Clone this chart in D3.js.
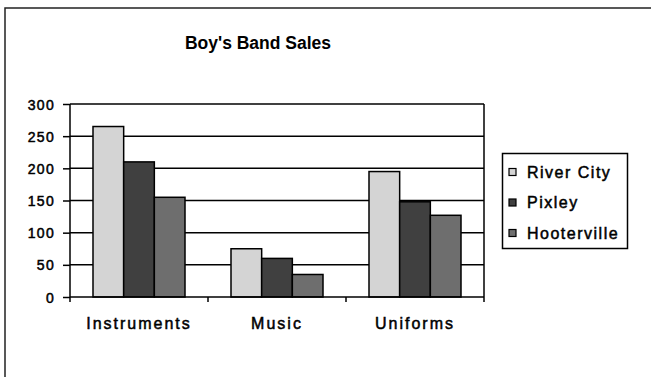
<!DOCTYPE html>
<html>
<head>
<meta charset="utf-8">
<script src="https://cdn.jsdelivr.net/npm/d3@7/dist/d3.min.js"></script>
<style>
  html, body { margin: 0; padding: 0; background: #fff; }
  svg { display: block; }
  text { font-family: Arial, "Liberation Sans", sans-serif; fill: #000; }
</style>
</head>
<body>
<svg id="chart" width="651" height="377"></svg>
<script>
const title = "Boy's Band Sales";
const categories = ["Instruments", "Music", "Uniforms"];
const seriesNames = ["River City", "Pixley", "Hooterville"];
const riverCity = [265, 75, 195];
const pixley = [210, 60, 148];
const hooterville = [155, 35, 127];
const yTicks = [0, 50, 100, 150, 200, 250, 300];
const seriesColors = ["#d4d4d4", "#404040", "#6e6e6e"];

const seriesValues = [riverCity, pixley, hooterville];
const data = categories.map((c, i) => ({
  category: c,
  values: seriesNames.map((s, j) => ({ series: s, value: seriesValues[j][i], color: seriesColors[j] }))
}));

const svg = d3.select("#chart");

// outer chart frame
svg.append("rect").attr("x", 5).attr("y", 8).attr("width", 700).attr("height", 400)
  .attr("fill", "none").attr("stroke", "#222").attr("stroke-width", 1.5);

const plot = { left: 70, right: 484, top: 104, bottom: 297 };

const x = d3.scaleBand().domain(categories).range([plot.left, plot.right]).paddingInner(0).paddingOuter(0);
const xInner = d3.scaleBand().domain(seriesNames).range([0, x.bandwidth()]).paddingInner(0).paddingOuter(0.75);
const y = d3.scaleLinear().domain([0, 300]).range([plot.bottom, plot.top]);

// gridlines
svg.append("g").selectAll("line").data(yTicks.filter(d => d > 0)).join("line")
  .attr("x1", plot.left).attr("x2", plot.right)
  .attr("y1", d => y(d)).attr("y2", d => y(d))
  .attr("stroke", "#000").attr("stroke-width", 1.5);

// right plot border
svg.append("line").attr("x1", plot.right).attr("x2", plot.right)
  .attr("y1", y(300)).attr("y2", y(0)).attr("stroke", "#000").attr("stroke-width", 1.5);

// bars
const groups = svg.append("g").selectAll("g").data(data).join("g")
  .attr("transform", d => `translate(${x(d.category)},0)`);
groups.selectAll("rect").data(d => d.values).join("rect")
  .attr("x", d => xInner(d.series))
  .attr("width", xInner.bandwidth())
  .attr("y", d => y(d.value))
  .attr("height", d => y(0) - y(d.value))
  .attr("fill", d => d.color)
  .attr("stroke", "#000").attr("stroke-width", 1.5);

// y axis
const yAxis = svg.append("g").attr("transform", `translate(${plot.left},0)`)
  .call(d3.axisLeft(y).tickValues(yTicks).tickSize(7).tickPadding(8).tickFormat(d3.format("d")));
yAxis.select(".domain").attr("stroke", "#000").attr("stroke-width", 1.5).attr("d", `M0,${y(300)}V${y(0)}`);
yAxis.selectAll(".tick line").attr("stroke", "#000").attr("stroke-width", 1.5);
yAxis.selectAll(".tick text").attr("font-size", 14).attr("letter-spacing", "1.3px")
  .attr("font-family", "Arial, 'Liberation Sans', sans-serif")
  .attr("stroke", "#000").attr("stroke-width", 0.5).attr("dy", "0.36em");

// x axis
const xAxis = svg.append("g").attr("transform", `translate(0,${plot.bottom})`)
  .call(d3.axisBottom(x).tickSize(0).tickPadding(21));
xAxis.select(".domain").attr("stroke", "#000").attr("stroke-width", 1.5).attr("d", `M${plot.left},0H${plot.right}`);
xAxis.selectAll(".tick text").attr("font-size", 16).attr("letter-spacing", "2px")
  .attr("font-family", "Arial, 'Liberation Sans', sans-serif")
  .attr("stroke", "#000").attr("stroke-width", 0.5);
// category boundary ticks
const boundaries = categories.map(c => x(c)).concat([x(categories[categories.length - 1]) + x.bandwidth()]);
svg.append("g").selectAll("line").data(boundaries).join("line")
  .attr("x1", d => d).attr("x2", d => d)
  .attr("y1", plot.bottom).attr("y2", plot.bottom + 5)
  .attr("stroke", "#000").attr("stroke-width", 1.5);

// title
svg.append("text").attr("x", 258).attr("y", 49).attr("text-anchor", "middle")
  .attr("font-size", 17.5).attr("font-weight", "bold").text(title);

// legend
const legend = svg.append("g");
legend.append("rect").attr("x", 502.5).attr("y", 153.5).attr("width", 125).attr("height", 95)
  .attr("fill", "#fff").attr("stroke", "#000").attr("stroke-width", 1.5);
const items = legend.selectAll("g.item").data(seriesNames).join("g").attr("class", "item")
  .attr("transform", (d, i) => `translate(0,${172 + i * 30.5})`);
items.append("rect").attr("x", 509).attr("y", -3.5).attr("width", 7).attr("height", 7)
  .attr("fill", (d, i) => seriesColors[i]).attr("stroke", "#000").attr("stroke-width", 1.2);
items.append("text").attr("x", 527).attr("y", 0).attr("dy", "0.36em")
  .attr("font-size", 16).attr("letter-spacing", "1.5px")
  .attr("stroke", "#000").attr("stroke-width", 0.5)
  .text(d => d);
</script>
</body>
</html>
